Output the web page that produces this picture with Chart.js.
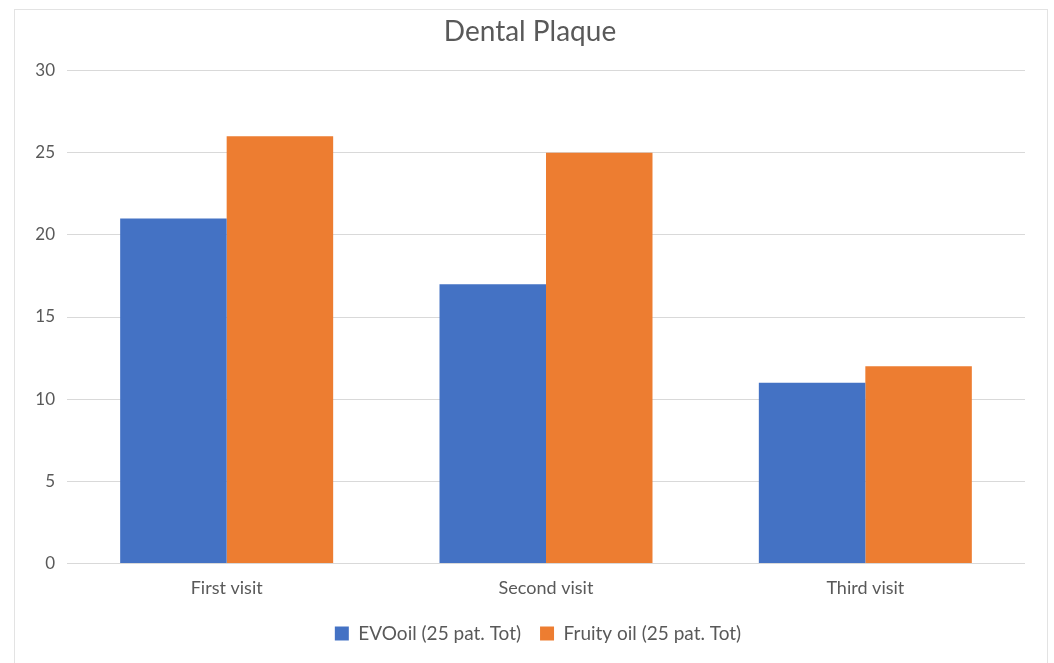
<!DOCTYPE html>
<html lang="en">
<head>
  <meta charset="UTF-8">
  <title>Dental Plaque</title>
  <script src="https://cdn.jsdelivr.net/npm/chart.js"></script>
  <style>
    body { margin: 0; background: #fff; }
    .frame {
      position: absolute; left: 14px; top: 9px; width: 1032px; height: 654px;
      border: 1px solid #e3e3e3; border-bottom: none;
    }
  </style>
</head>
<body>
  <div class="frame">
    <canvas id="plaqueChart" width="1032" height="654"></canvas>
  </div>

  <script>
    const visits = ['First visit', 'Second visit', 'Third visit'];
    const evoOil = [21, 17, 11];
    const fruityOil = [26, 25, 12];
    const yMin = 0, yMax = 30, yStep = 5;

    const font = 'Lato, "Open Sans", sans-serif';
    const textColor = '#595959';

    // nudge the title and legend right so they sit over the plot, not the whole canvas
    const shiftBlocks = {
      id: 'shiftBlocks',
      afterLayout(chart) {
        const move = (box, dx) => { if (box) { box.left += dx; box.right += dx; } };
        move(chart.titleBlock, 10);
        move(chart.legend, 18);
      }
    };

    new Chart(document.getElementById('plaqueChart'), {
      type: 'bar',
      data: {
        labels: visits,
        datasets: [
          { label: 'EVOoil (25 pat. Tot)', data: evoOil, backgroundColor: '#4472C4' },
          { label: 'Fruity oil (25 pat. Tot)', data: fruityOil, backgroundColor: '#ED7D31' }
        ]
      },
      plugins: [shiftBlocks],
      options: {
        responsive: false,
        animation: false,
        layout: { padding: { left: 0, right: 22, top: 0, bottom: 11 } },
        datasets: { bar: { categoryPercentage: 0.667, barPercentage: 1.0 } },
        plugins: {
          title: {
            display: true, text: 'Dental Plaque', color: textColor,
            font: { family: font, size: 28, weight: 'normal' },
            padding: { top: 5, bottom: 22 }
          },
          legend: {
            position: 'bottom',
            labels: {
              color: textColor, boxWidth: 14, boxHeight: 14, padding: 19,
              font: { family: font, size: 19 }
            }
          },
          tooltip: { enabled: false }
        },
        scales: {
          x: {
            grid: { display: false },
            border: { display: false },
            ticks: { color: textColor, padding: 6, font: { family: font, size: 18 } }
          },
          y: {
            min: yMin, max: yMax,
            afterFit: s => { s.width = 52; },
            grid: { color: '#d9d9d9', drawTicks: false },
            border: { display: false },
            ticks: { stepSize: yStep, color: textColor, padding: 12, font: { family: font, size: 17 } }
          }
        }
      }
    });
  </script>
</body>
</html>
